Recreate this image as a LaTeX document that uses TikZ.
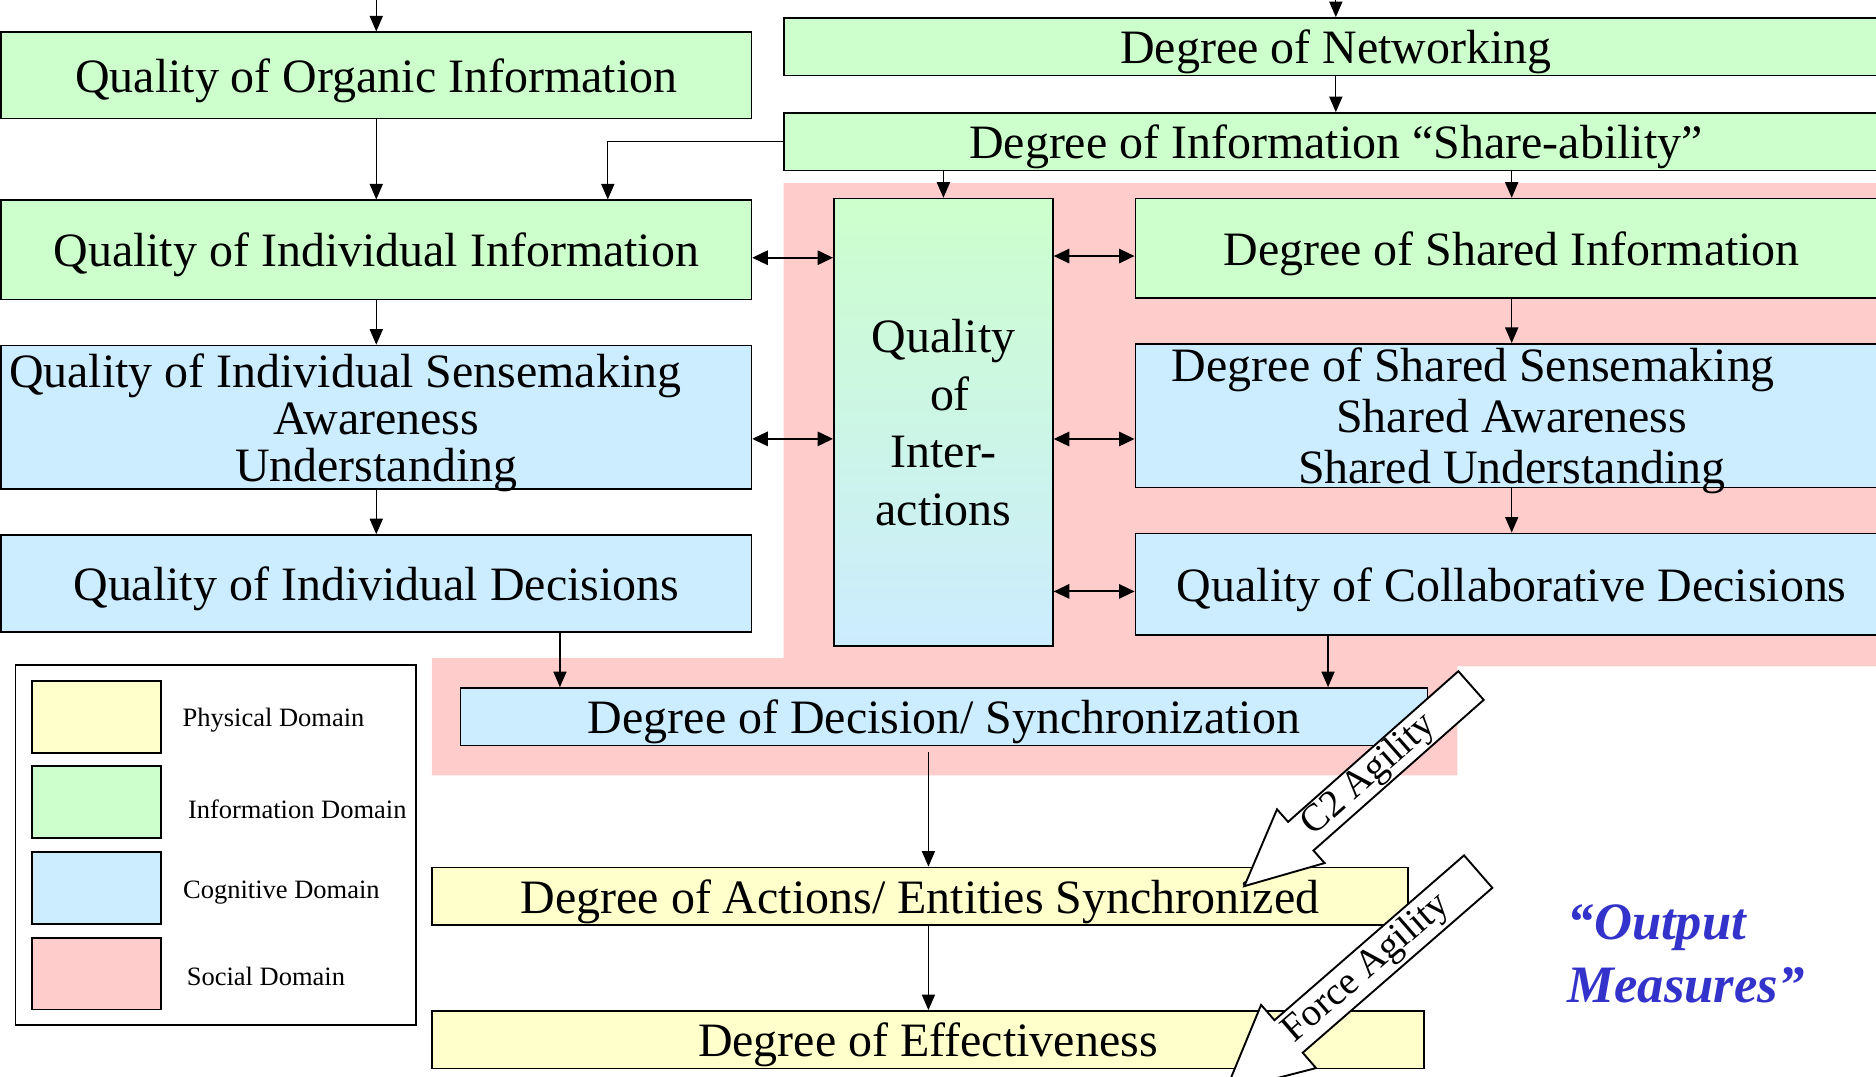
\documentclass[tikz,border=0pt]{standalone}
\usepackage{fontspec}
\setmainfont{Liberation Serif}
\usetikzlibrary{positioning,arrows.meta}
\definecolor{cPhys}{HTML}{FFFFCC}
\definecolor{cInfo}{HTML}{CCFFCC}
\definecolor{cCog}{HTML}{CCECFF}
\definecolor{cSoc}{HTML}{FFCCCC}
\definecolor{cOut}{HTML}{3333CC}
\tikzset{
  blk/.style={draw, line width=0.8pt, inner sep=0pt, align=center, text depth=0pt,
              font=\fontsize{22.8}{27.4}\selectfont},
  phys/.style={blk, fill=cPhys},
  info/.style={blk, fill=cInfo},
  cog/.style={blk, fill=cCog},
  tight/.style={font=\fontsize{22.8}{22.4}\selectfont},
  ar/.style={-{Triangle[length=0.26cm,width=0.22cm]}, line width=0.6pt},
  dar/.style={{Triangle[length=0.26cm,width=0.24cm]}-{Triangle[length=0.26cm,width=0.24cm]}, line width=0.9pt},
  bigar/.style={draw, fill=white, line width=0.9pt, line join=miter},
  agil/.style={font=\fontsize{18.4}{20}\selectfont, inner sep=0pt},
  swatch/.style={draw, line width=0.9pt, minimum width=2.16cm, minimum height=1.2cm, inner sep=0pt},
  lgd/.style={font=\fontsize{12.6}{14}\selectfont, inner sep=0pt, anchor=west},
}

\begin{document}
\begin{tikzpicture}
  \fill[white] (0,0) rectangle (31.36,-18);
  \useasboundingbox (0,0) rectangle (31.36,-18);
  \clip (0,0) rectangle (31.36,-18);
  \fill[cSoc] (13.1,-3.06) -- (31.6,-3.06) -- (31.6,-11.14) -- (24.36,-11.14) -- (24.36,-12.96)
    -- (7.22,-12.96) -- (7.22,-11) -- (13.1,-11) -- cycle;

  \node[info, minimum width=12.54cm, minimum height=1.44cm] (org) at (6.29,-1.26) {Quality of Organic Information};
  \node[info, minimum width=12.54cm, minimum height=1.66cm, below=1.34cm of org] (indinfo) {Quality of Individual Information};
  \node[cog, tight, minimum width=12.54cm, minimum height=2.4cm, below=0.74cm of indinfo] (indsense)
    {Quality of Individual Sensemaking\hspace*{1.04cm}\\Awareness\\Understanding};
  \node[cog, minimum width=12.54cm, minimum height=1.62cm, below=0.74cm of indsense] (inddec) {Quality of Individual Decisions};

  \node[info, minimum width=18.46cm, minimum height=0.96cm] (net) at (22.33,-0.78) {Degree of Networking};
  \node[info, minimum width=18.46cm, minimum height=0.96cm, below=0.6cm of net] (share) {Degree of Information “Share-ability”};
  \node[info, minimum width=12.58cm, minimum height=1.66cm] (shinfo) at (25.27,-4.15) {Degree of Shared Information};
  \node[cog, font=\fontsize{22.8}{24.2}\selectfont, minimum width=12.58cm, minimum height=2.4cm, below=0.74cm of shinfo] (shsense)
    {Degree of Shared Sensemaking\hspace*{1.28cm}\\Shared Awareness\\Shared Understanding};
  \node[cog, minimum width=12.58cm, minimum height=1.7cm, below=0.74cm of shsense] (coldec) {Quality of Collaborative Decisions};

  \node[info, top color=cInfo, bottom color=cCog, minimum width=3.66cm, minimum height=7.48cm] (qoi) at (15.77,-7.06)
    {Quality\\\hspace*{0.22cm}of\\Inter-\\actions};

  \node[cog, minimum width=16.16cm, minimum height=0.96cm] (decsync) at (15.78,-11.98) {Degree of Decision/ Synchronization};
  \node[phys, minimum width=16.32cm, minimum height=0.96cm] (act) at (15.38,-14.98) {Degree of Actions/ Entities Synchronized};
  \node[phys, minimum width=16.58cm, minimum height=0.96cm] (eff) at (15.51,-17.38) {Degree of Effectiveness};

  \coordinate (orgin) at (6.29,0.4);
  \coordinate (netin) at (22.33,0.4);
  \draw[ar] (orgin) -- (org);
  \draw[ar] (netin) -- (net);
  \draw[ar] (org) -- (indinfo);
  \draw[ar] (net) -- (share);
  \draw[ar] (share.west) -| ([xshift=3.87cm]indinfo.north);
  \draw[ar] (share.south -| qoi.north) -- (qoi.north);
  \draw[ar] (share.south -| shinfo.north) -- (shinfo.north);
  \draw[ar] (indinfo) -- (indsense);
  \draw[ar] (indsense) -- (inddec);
  \draw[ar] (shinfo) -- (shsense);
  \draw[ar] (shsense) -- (coldec);
  \draw[ar] ([xshift=3.07cm]inddec.south) -- ([xshift=3.07cm]inddec.south |- decsync.north);
  \draw[ar] ([xshift=-3.07cm]coldec.south) -- ([xshift=-3.07cm]coldec.south |- decsync.north);
  \draw[ar] ([xshift=-0.26cm,yshift=-0.1cm]decsync.south) -- ([xshift=-0.26cm]decsync.south |- act.north);
  \draw[ar] ([xshift=0.14cm]act.south) -- ([xshift=0.14cm]act.south |- eff.north);

  \draw[dar] ([yshift=-0.13cm]indinfo.east) -- ([yshift=-0.13cm]indinfo.east -| qoi.west);
  \draw[dar] ([yshift=-0.36cm]indsense.east) -- ([yshift=-0.36cm]indsense.east -| qoi.west);
  \draw[dar] ([yshift=-0.13cm]shinfo.west) -- ([yshift=-0.13cm]shinfo.west -| qoi.east);
  \draw[dar] ([yshift=-0.39cm]shsense.west) -- ([yshift=-0.39cm]shsense.west -| qoi.east);
  \draw[dar] ([yshift=-0.12cm]coldec.west) -- ([yshift=-0.12cm]coldec.west -| qoi.east);

  \begin{scope}[shift={(24.59,-11.46)}, rotate=221.5]
    \draw[bigar] (0,0.32) -- (3.8,0.32) -- (3.8,0.6) -- (5.06,0) -- (3.8,-0.6) -- (3.8,-0.32) -- (0,-0.32) -- cycle;
    \node[agil, rotate=41.5] (c2) at (2.27,0) {C2 Agility};
  \end{scope}
  \begin{scope}[shift={(24.71,-14.57)}, rotate=221]
    \draw[bigar] (0,0.36) -- (4.2,0.36) -- (4.2,0.7) -- (5.6,0) -- (4.2,-0.7) -- (4.2,-0.36) -- (0,-0.36) -- cycle;
    \node[agil, rotate=41] (force) at (2.47,0) {Force Agility};
  \end{scope}

  \node[font=\fontsize{25}{30}\selectfont\bfseries\itshape, text=cOut, align=left, anchor=west, inner sep=0pt]
    (outm) at (26.2,-15.95) {“Output\\Measures”};

  \node[draw, line width=0.9pt, minimum width=6.7cm, minimum height=6.02cm] (legend) at (3.61,-14.13) {};
  \node[swatch, fill=cPhys] (swphys) at (1.61,-11.98) {};
  \node[swatch, fill=cInfo, below=0.2cm of swphys] (swinfo) {};
  \node[swatch, fill=cCog, below=0.2cm of swinfo] (swcog) {};
  \node[swatch, fill=cSoc, below=0.2cm of swcog] (swsoc) {};
  \node[lgd, right=0.34cm of swphys, yshift=-0.06cm] (lphys) {Physical Domain};
  \node[lgd, right=0.43cm of swinfo, yshift=-0.12cm] (linfo) {Information Domain};
  \node[lgd, right=0.35cm of swcog, yshift=-0.07cm] (lcog) {Cognitive Domain};
  \node[lgd, right=0.41cm of swsoc, yshift=-0.04cm] (lsoc) {Social Domain};
\end{tikzpicture}
\end{document}
